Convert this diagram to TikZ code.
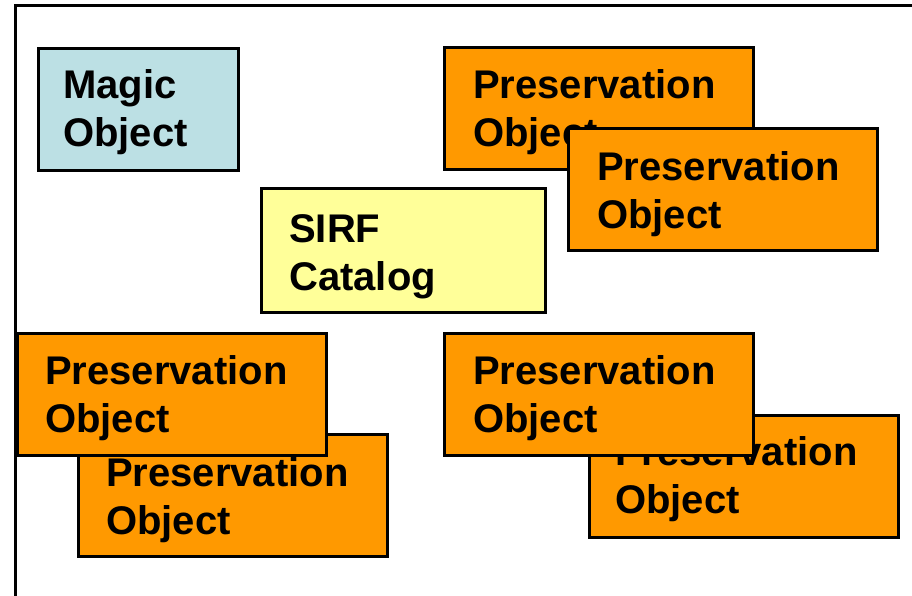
\documentclass[tikz,border=0pt]{standalone}
\usepackage{fontspec}
\setmainfont{Liberation Sans}
\definecolor{magicblue}{HTML}{BCE0E4}
\definecolor{sirfyellow}{HTML}{FFFF99}
\definecolor{presorange}{HTML}{FF9900}
\tikzset{
  box/.style={draw=black, line width=3pt, anchor=north west, inner sep=0pt,
              minimum width=#1, minimum height=122pt},
  pbox/.style={box=309pt, fill=presorange},
  lbl/.style={anchor=north west, inner sep=0pt, align=left,
              font=\fontsize{40}{48}\selectfont\bfseries},
  frameline/.style={draw=black, line width=3pt}
}
\begin{document}
\begin{tikzpicture}[x=1pt,y=-1pt]
\useasboundingbox (0,0) rectangle (912,596);
\draw[frameline] (15.5,600) -- (15.5,5.5) -- (915,5.5);

% Magic Object
\node[box=200pt, fill=magicblue] (magic) at (37,47) {};
\node[lbl] (magict) at ([shift={(26,22.5)}]magic.north west) {Magic\\Object};

% top right pair
\node[pbox] (p1) at (443,46) {};
\node[lbl] (p1t) at ([shift={(30,23)}]p1.north west) {Preservation\\Object};
\node[pbox] (p2) at (567,127) {};
\node[lbl] (p2t) at ([shift={(30,24)}]p2.north west) {Preservation\\Object};

% SIRF Catalog
\node[box=284pt, fill=sirfyellow, minimum height=124pt] (sirf) at (260,187) {};
\node[lbl] (sirft) at ([shift={(29,27)}]sirf.north west) {SIRF\\Catalog};

% bottom left pair
\node[pbox] (p4) at (77,433) {};
\node[lbl] (p4t) at ([shift={(29,24)}]p4.north west) {Preservation\\Object};
\node[pbox] (p3) at (16,332) {};
\node[lbl] (p3t) at ([shift={(29,23)}]p3.north west) {Preservation\\Object};

% bottom right pair
\node[pbox] (p6) at (588,414) {};
\node[lbl] (p6t) at ([shift={(27,22.5)}]p6.north west) {Preservation\\Object};
\node[pbox] (p5) at (443,332) {};
\node[lbl] (p5t) at ([shift={(30,23)}]p5.north west) {Preservation\\Object};
\end{tikzpicture}
\end{document}
